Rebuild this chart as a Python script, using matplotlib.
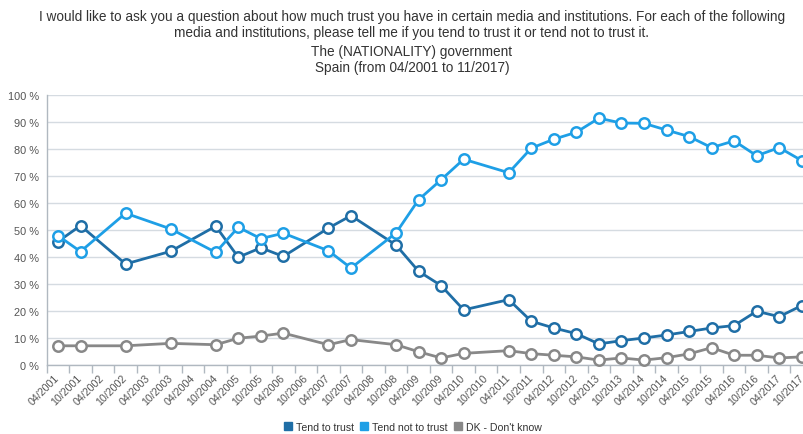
import matplotlib
matplotlib.use("Agg")
import matplotlib.pyplot as plt
from matplotlib.lines import Line2D

plt.rcParams['font.family'] = ['Liberation Sans', 'DejaVu Sans']

categories = ["04/2001", "10/2001", "04/2002", "10/2002", "04/2003", "10/2003",
              "04/2004", "10/2004", "04/2005", "10/2005", "04/2006", "10/2006",
              "04/2007", "10/2007", "04/2008", "10/2008", "04/2009", "10/2009",
              "04/2010", "10/2010", "04/2011", "10/2011", "04/2012", "10/2012",
              "04/2013", "10/2013", "04/2014", "10/2014", "04/2015", "10/2015",
              "04/2016", "10/2016", "04/2017", "10/2017"]

surveys = ["04/2001", "10/2001", "10/2002", "10/2003", "10/2004", "04/2005",
           "10/2005", "04/2006", "04/2007", "10/2007", "10/2008", "04/2009",
           "10/2009", "04/2010", "04/2011", "10/2011", "04/2012", "10/2012",
           "04/2013", "10/2013", "04/2014", "10/2014", "04/2015", "10/2015",
           "04/2016", "10/2016", "04/2017", "10/2017"]

tend_to_trust = [45.6, 51.5, 37.3, 42.0, 51.3, 39.8, 43.3, 40.1, 50.6, 55.2,
                 44.3, 34.6, 29.3, 20.3, 24.1, 16.1, 13.6, 11.5, 7.7, 8.9,
                 9.9, 11.0, 12.3, 13.6, 14.5, 19.8, 17.8, 21.9]
tend_not_to_trust = [47.8, 41.9, 56.1, 50.3, 41.6, 50.9, 46.7, 48.7, 42.2, 35.8,
                     48.8, 61.1, 68.5, 76.1, 71.1, 80.2, 83.5, 86.1, 91.3, 89.5,
                     89.4, 86.9, 84.5, 80.4, 82.9, 77.4, 80.4, 75.6]
dont_know = [7.0, 7.0, 7.0, 7.9, 7.4, 9.8, 10.6, 11.7, 7.4, 9.3,
             7.4, 4.8, 2.5, 4.2, 5.2, 4.1, 3.5, 2.9, 1.7, 2.5,
             1.7, 2.6, 4.0, 6.3, 3.5, 3.5, 2.5, 2.9]

series_names = ["Tend to trust", "Tend not to trust", "DK - Don't know"]
series_colors = ["#1f6ea6", "#1e9fe6", "#888888"]

title_lines = ["I would like to ask you a question about how much trust you have in certain media and institutions. For each of the following",
               "media and institutions, please tell me if you tend to trust it or tend not to trust it."]
subtitle_lines = ["The (NATIONALITY) government", "Spain (from 04/2001 to 11/2017)"]

W, H = 804, 435
fig = plt.figure(figsize=(W / 100, H / 100), dpi=100)

left, right, top, bottom = 46.7, 813.0, 95.7, 365.7
ax = fig.add_axes([left / W, (H - bottom) / H, (right - left) / W, (bottom - top) / H])

xs = [categories.index(s) for s in surveys]
for vals, name, col in zip([tend_to_trust, tend_not_to_trust, dont_know], series_names, series_colors):
    ax.plot(xs, vals, color=col, lw=2, marker='o', markersize=7.5,
            markerfacecolor='white', markeredgecolor=col, markeredgewidth=1.8,
            zorder=3, clip_on=False)

ax.set_xlim(-0.5, len(categories) - 0.5)
ax.set_ylim(0, 100)

ax.set_yticks(range(0, 101, 10))
ax.set_yticklabels([f"{v} %" for v in range(0, 101, 10)])
ax.yaxis.grid(True, color="#d5dbe1", lw=1)
ax.set_axisbelow(True)
ax.tick_params(axis='y', length=0, pad=5.8, labelsize=7.9, labelcolor="#555555")

# ticks between categories, labels at centers
ax.set_xticks([i - 0.5 for i in range(len(categories) + 1)])
ax.set_xticklabels([])
ax.set_xticks(range(len(categories)), minor=True)
ax.set_xticklabels(categories, minor=True, rotation=45, ha='right', va='center',
                   rotation_mode='anchor')
ax.tick_params(axis='x', which='major', length=6, color="#b0b8c0", width=1)
ax.tick_params(axis='x', which='minor', length=0, pad=8, labelsize=7.7, labelcolor="#555555")

for s in ['top', 'right']:
    ax.spines[s].set_visible(False)
for s in ['left', 'bottom']:
    ax.spines[s].set_color("#b0b8c0")
    ax.spines[s].set_linewidth(1)

cx = 412 / W
for line, yy in zip(title_lines + subtitle_lines, [17, 33, 52, 68]):
    fig.text(cx, 1 - yy / H, line, ha='center', va='center', fontsize=9.8, color="#333333")

handles = [Line2D([], [], marker='s', linestyle='none', markersize=5.5,
                  markerfacecolor=c, markeredgecolor=c) for c in series_colors]
fig.legend(handles, series_names, loc='center', bbox_to_anchor=(413 / W, 1 - 428 / H),
           ncol=3, frameon=False, fontsize=7.6, handlelength=0.7, handletextpad=0.4,
           columnspacing=0.6, labelcolor="#333333", borderpad=0)

fig.savefig("out.png", dpi=100)
